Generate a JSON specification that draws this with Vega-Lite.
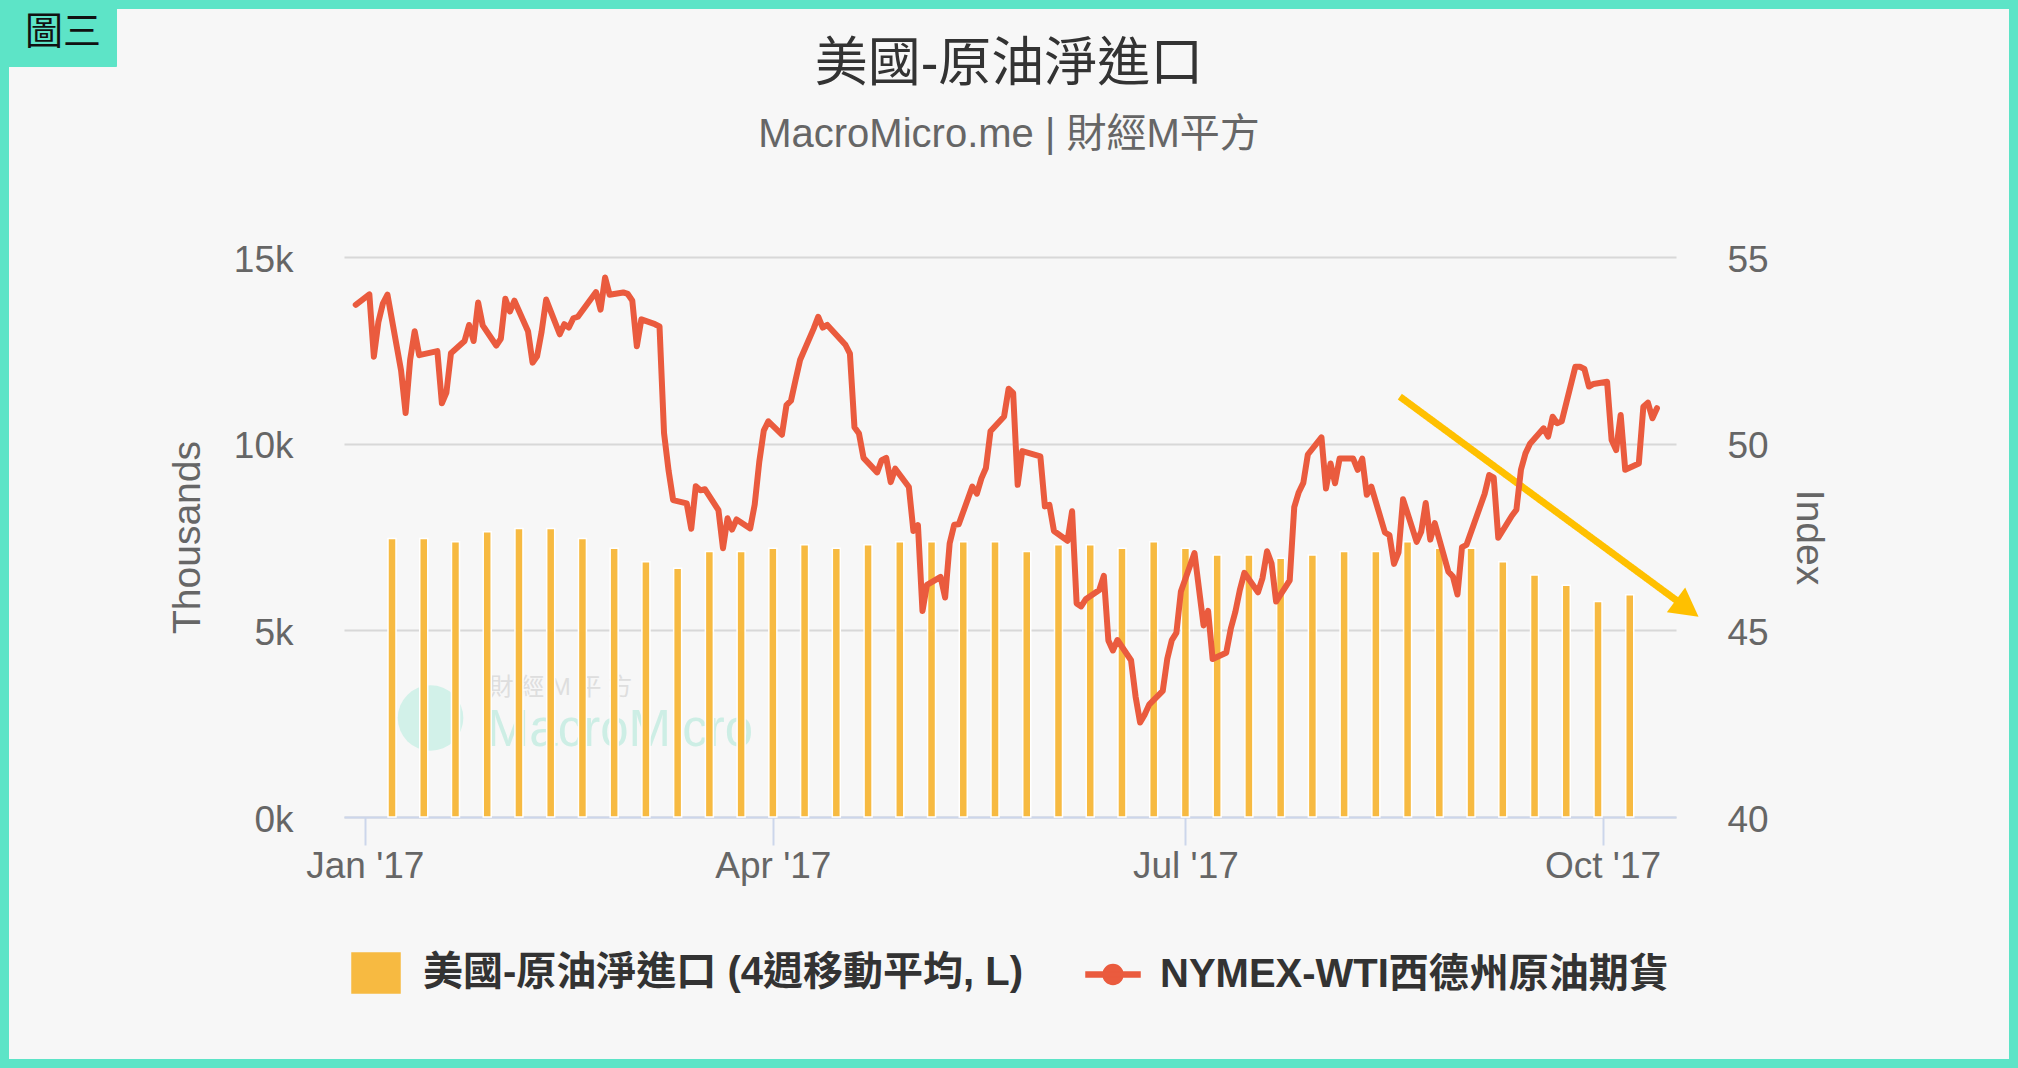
{
  "$schema": "https://vega.github.io/schema/vega-lite/v6.json",
  "width": 2018,
  "height": 1068,
  "autosize": "none",
  "padding": 0,
  "background": "#5DE4C7",
  "config": {
    "font": "'Liberation Sans', 'Noto Sans CJK TC', sans-serif",
    "view": {"fill": "#F7F7F7", "stroke": "#5DE4C7", "strokeWidth": 18}
  },
  "title": {
    "text": "美國-原油淨進口",
    "subtitle": "MacroMicro.me | 財經M平方",
    "anchor": "middle",
    "frame": "group",
    "offset": -155,
    "fontSize": 53,
    "fontWeight": "normal",
    "color": "#333333",
    "subtitleFontSize": 40,
    "subtitleColor": "#666666",
    "subtitlePadding": 23
  },
  "datasets": {
    "imports": [
      {"date": "2017-01-07", "value": 7460},
      {"date": "2017-01-14", "value": 7460},
      {"date": "2017-01-21", "value": 7375},
      {"date": "2017-01-28", "value": 7640},
      {"date": "2017-02-04", "value": 7730},
      {"date": "2017-02-11", "value": 7730},
      {"date": "2017-02-18", "value": 7460},
      {"date": "2017-02-25", "value": 7200},
      {"date": "2017-03-04", "value": 6840},
      {"date": "2017-03-11", "value": 6660},
      {"date": "2017-03-18", "value": 7110},
      {"date": "2017-03-25", "value": 7110},
      {"date": "2017-04-01", "value": 7200},
      {"date": "2017-04-08", "value": 7290},
      {"date": "2017-04-15", "value": 7200},
      {"date": "2017-04-22", "value": 7290},
      {"date": "2017-04-29", "value": 7375},
      {"date": "2017-05-06", "value": 7375},
      {"date": "2017-05-13", "value": 7375},
      {"date": "2017-05-20", "value": 7375},
      {"date": "2017-05-27", "value": 7110},
      {"date": "2017-06-03", "value": 7290},
      {"date": "2017-06-10", "value": 7290},
      {"date": "2017-06-17", "value": 7200},
      {"date": "2017-06-24", "value": 7375},
      {"date": "2017-07-01", "value": 7200},
      {"date": "2017-07-08", "value": 7020},
      {"date": "2017-07-15", "value": 7020},
      {"date": "2017-07-22", "value": 6930},
      {"date": "2017-07-29", "value": 7020},
      {"date": "2017-08-05", "value": 7110},
      {"date": "2017-08-12", "value": 7110},
      {"date": "2017-08-19", "value": 7375},
      {"date": "2017-08-26", "value": 7200},
      {"date": "2017-09-02", "value": 7200},
      {"date": "2017-09-09", "value": 6840},
      {"date": "2017-09-16", "value": 6480},
      {"date": "2017-09-23", "value": 6210},
      {"date": "2017-09-30", "value": 5770},
      {"date": "2017-10-07", "value": 5950}
    ],
    "wti": [
      {"date": "2016-12-30", "price": 53.72},
      {"date": "2017-01-02", "price": 54.0},
      {"date": "2017-01-03", "price": 52.33},
      {"date": "2017-01-04", "price": 53.26},
      {"date": "2017-01-05", "price": 53.76},
      {"date": "2017-01-06", "price": 53.99},
      {"date": "2017-01-09", "price": 51.96},
      {"date": "2017-01-10", "price": 50.82},
      {"date": "2017-01-11", "price": 52.25},
      {"date": "2017-01-12", "price": 53.01},
      {"date": "2017-01-13", "price": 52.37},
      {"date": "2017-01-17", "price": 52.48},
      {"date": "2017-01-18", "price": 51.08},
      {"date": "2017-01-19", "price": 51.37},
      {"date": "2017-01-20", "price": 52.42},
      {"date": "2017-01-23", "price": 52.75},
      {"date": "2017-01-24", "price": 53.18},
      {"date": "2017-01-25", "price": 52.75},
      {"date": "2017-01-26", "price": 53.78},
      {"date": "2017-01-27", "price": 53.17},
      {"date": "2017-01-30", "price": 52.63},
      {"date": "2017-01-31", "price": 52.81},
      {"date": "2017-02-01", "price": 53.88},
      {"date": "2017-02-02", "price": 53.54},
      {"date": "2017-02-03", "price": 53.83},
      {"date": "2017-02-06", "price": 53.01},
      {"date": "2017-02-07", "price": 52.17},
      {"date": "2017-02-08", "price": 52.34},
      {"date": "2017-02-09", "price": 53.0},
      {"date": "2017-02-10", "price": 53.86},
      {"date": "2017-02-13", "price": 52.93},
      {"date": "2017-02-14", "price": 53.2},
      {"date": "2017-02-15", "price": 53.11},
      {"date": "2017-02-16", "price": 53.36},
      {"date": "2017-02-17", "price": 53.4},
      {"date": "2017-02-21", "price": 54.06},
      {"date": "2017-02-22", "price": 53.59},
      {"date": "2017-02-23", "price": 54.45},
      {"date": "2017-02-24", "price": 53.99},
      {"date": "2017-02-27", "price": 54.05},
      {"date": "2017-02-28", "price": 54.01},
      {"date": "2017-03-01", "price": 53.83},
      {"date": "2017-03-02", "price": 52.61},
      {"date": "2017-03-03", "price": 53.33},
      {"date": "2017-03-06", "price": 53.2},
      {"date": "2017-03-07", "price": 53.14},
      {"date": "2017-03-08", "price": 50.28},
      {"date": "2017-03-09", "price": 49.28},
      {"date": "2017-03-10", "price": 48.49},
      {"date": "2017-03-13", "price": 48.4},
      {"date": "2017-03-14", "price": 47.72},
      {"date": "2017-03-15", "price": 48.86},
      {"date": "2017-03-16", "price": 48.75},
      {"date": "2017-03-17", "price": 48.78},
      {"date": "2017-03-20", "price": 48.22},
      {"date": "2017-03-21", "price": 47.2},
      {"date": "2017-03-22", "price": 48.0},
      {"date": "2017-03-23", "price": 47.7},
      {"date": "2017-03-24", "price": 47.97},
      {"date": "2017-03-27", "price": 47.73},
      {"date": "2017-03-28", "price": 48.37},
      {"date": "2017-03-29", "price": 49.51},
      {"date": "2017-03-30", "price": 50.35},
      {"date": "2017-03-31", "price": 50.6},
      {"date": "2017-04-03", "price": 50.24},
      {"date": "2017-04-04", "price": 51.03},
      {"date": "2017-04-05", "price": 51.15},
      {"date": "2017-04-06", "price": 51.7},
      {"date": "2017-04-07", "price": 52.24},
      {"date": "2017-04-10", "price": 53.08},
      {"date": "2017-04-11", "price": 53.4},
      {"date": "2017-04-12", "price": 53.11},
      {"date": "2017-04-13", "price": 53.18},
      {"date": "2017-04-17", "price": 52.65},
      {"date": "2017-04-18", "price": 52.41},
      {"date": "2017-04-19", "price": 50.44},
      {"date": "2017-04-20", "price": 50.27},
      {"date": "2017-04-21", "price": 49.62},
      {"date": "2017-04-24", "price": 49.23},
      {"date": "2017-04-25", "price": 49.56},
      {"date": "2017-04-26", "price": 49.62},
      {"date": "2017-04-27", "price": 48.97},
      {"date": "2017-04-28", "price": 49.33},
      {"date": "2017-05-01", "price": 48.84},
      {"date": "2017-05-02", "price": 47.66},
      {"date": "2017-05-03", "price": 47.82},
      {"date": "2017-05-04", "price": 45.52},
      {"date": "2017-05-05", "price": 46.22},
      {"date": "2017-05-08", "price": 46.43},
      {"date": "2017-05-09", "price": 45.88},
      {"date": "2017-05-10", "price": 47.33},
      {"date": "2017-05-11", "price": 47.83},
      {"date": "2017-05-12", "price": 47.84},
      {"date": "2017-05-15", "price": 48.85},
      {"date": "2017-05-16", "price": 48.66},
      {"date": "2017-05-17", "price": 49.07},
      {"date": "2017-05-18", "price": 49.35},
      {"date": "2017-05-19", "price": 50.33},
      {"date": "2017-05-22", "price": 50.73},
      {"date": "2017-05-23", "price": 51.47},
      {"date": "2017-05-24", "price": 51.36},
      {"date": "2017-05-25", "price": 48.9},
      {"date": "2017-05-26", "price": 49.8},
      {"date": "2017-05-30", "price": 49.66},
      {"date": "2017-05-31", "price": 48.32},
      {"date": "2017-06-01", "price": 48.36},
      {"date": "2017-06-02", "price": 47.66},
      {"date": "2017-06-05", "price": 47.4},
      {"date": "2017-06-06", "price": 48.19},
      {"date": "2017-06-07", "price": 45.72},
      {"date": "2017-06-08", "price": 45.64},
      {"date": "2017-06-09", "price": 45.83},
      {"date": "2017-06-12", "price": 46.08},
      {"date": "2017-06-13", "price": 46.46},
      {"date": "2017-06-14", "price": 44.73},
      {"date": "2017-06-15", "price": 44.46},
      {"date": "2017-06-16", "price": 44.74},
      {"date": "2017-06-19", "price": 44.2},
      {"date": "2017-06-20", "price": 43.23},
      {"date": "2017-06-21", "price": 42.53},
      {"date": "2017-06-22", "price": 42.74},
      {"date": "2017-06-23", "price": 43.01},
      {"date": "2017-06-26", "price": 43.38},
      {"date": "2017-06-27", "price": 44.24},
      {"date": "2017-06-28", "price": 44.74},
      {"date": "2017-06-29", "price": 44.93},
      {"date": "2017-06-30", "price": 46.04},
      {"date": "2017-07-03", "price": 47.07},
      {"date": "2017-07-05", "price": 45.13},
      {"date": "2017-07-06", "price": 45.52},
      {"date": "2017-07-07", "price": 44.23},
      {"date": "2017-07-10", "price": 44.4},
      {"date": "2017-07-11", "price": 45.04},
      {"date": "2017-07-12", "price": 45.49},
      {"date": "2017-07-13", "price": 46.08},
      {"date": "2017-07-14", "price": 46.54},
      {"date": "2017-07-17", "price": 46.02},
      {"date": "2017-07-18", "price": 46.4},
      {"date": "2017-07-19", "price": 47.12},
      {"date": "2017-07-20", "price": 46.79},
      {"date": "2017-07-21", "price": 45.77},
      {"date": "2017-07-24", "price": 46.34},
      {"date": "2017-07-25", "price": 48.3},
      {"date": "2017-07-26", "price": 48.7},
      {"date": "2017-07-27", "price": 48.95},
      {"date": "2017-07-28", "price": 49.71},
      {"date": "2017-07-31", "price": 50.17},
      {"date": "2017-08-01", "price": 48.8},
      {"date": "2017-08-02", "price": 49.47},
      {"date": "2017-08-03", "price": 48.94},
      {"date": "2017-08-04", "price": 49.6},
      {"date": "2017-08-07", "price": 49.6},
      {"date": "2017-08-08", "price": 49.3},
      {"date": "2017-08-09", "price": 49.6},
      {"date": "2017-08-10", "price": 48.63},
      {"date": "2017-08-11", "price": 48.85},
      {"date": "2017-08-14", "price": 47.62},
      {"date": "2017-08-15", "price": 47.55},
      {"date": "2017-08-16", "price": 46.78},
      {"date": "2017-08-17", "price": 47.09},
      {"date": "2017-08-18", "price": 48.51},
      {"date": "2017-08-21", "price": 47.37},
      {"date": "2017-08-22", "price": 47.64},
      {"date": "2017-08-23", "price": 48.41},
      {"date": "2017-08-24", "price": 47.43},
      {"date": "2017-08-25", "price": 47.87},
      {"date": "2017-08-28", "price": 46.57},
      {"date": "2017-08-29", "price": 46.44},
      {"date": "2017-08-30", "price": 45.96},
      {"date": "2017-08-31", "price": 47.23},
      {"date": "2017-09-01", "price": 47.29},
      {"date": "2017-09-05", "price": 48.66},
      {"date": "2017-09-06", "price": 49.16},
      {"date": "2017-09-07", "price": 49.09},
      {"date": "2017-09-08", "price": 47.48},
      {"date": "2017-09-11", "price": 48.07},
      {"date": "2017-09-12", "price": 48.23},
      {"date": "2017-09-13", "price": 49.3},
      {"date": "2017-09-14", "price": 49.74},
      {"date": "2017-09-15", "price": 50.0},
      {"date": "2017-09-18", "price": 50.41},
      {"date": "2017-09-19", "price": 50.19},
      {"date": "2017-09-20", "price": 50.72},
      {"date": "2017-09-21", "price": 50.55},
      {"date": "2017-09-22", "price": 50.6},
      {"date": "2017-09-25", "price": 52.06},
      {"date": "2017-09-26", "price": 52.06},
      {"date": "2017-09-27", "price": 52.0},
      {"date": "2017-09-28", "price": 51.53},
      {"date": "2017-09-29", "price": 51.6},
      {"date": "2017-10-02", "price": 51.66},
      {"date": "2017-10-03", "price": 50.1},
      {"date": "2017-10-04", "price": 49.83},
      {"date": "2017-10-05", "price": 50.77},
      {"date": "2017-10-06", "price": 49.3},
      {"date": "2017-10-09", "price": 49.47},
      {"date": "2017-10-10", "price": 50.99},
      {"date": "2017-10-11", "price": 51.1},
      {"date": "2017-10-12", "price": 50.68},
      {"date": "2017-10-13", "price": 50.95}
    ],
    "arrow": [
      {"start_date": "2017-08-17T07:00:00Z", "start_value": 11260, "end_date": "2017-10-19T16:30:00Z", "end_value": 5590}
    ]
  },
  "layer": [
    {
      "layer": [
        {
          "data": {"values": [{"date": "2017-01-15T12:00:00Z", "value": 2650}]},
          "mark": {"type": "point", "shape": "circle", "filled": true, "size": 4300, "color": "#d2f1e9", "opacity": 1},
          "encoding": {
            "x": {"field": "date", "type": "temporal"},
            "y": {"field": "value", "type": "quantitative"}
          }
        },
        {
          "data": {"values": [{"date": "2017-01-28T12:00:00Z", "value": 3450, "label": "財  經  M  平  方"}]},
          "mark": {"type": "text", "align": "left", "baseline": "middle", "fontSize": 24, "color": "#dedede"},
          "encoding": {
            "x": {"field": "date", "type": "temporal"},
            "y": {"field": "value", "type": "quantitative"},
            "text": {"field": "label"}
          }
        },
        {
          "data": {"values": [{"date": "2017-01-27T22:00:00Z", "value": 2300, "label": "MacroMicro"}]},
          "mark": {"type": "text", "align": "left", "baseline": "middle", "fontSize": 51, "color": "#cdeee5"},
          "encoding": {
            "x": {"field": "date", "type": "temporal"},
            "y": {"field": "value", "type": "quantitative"},
            "text": {"field": "label"}
          }
        },
        {
          "data": {"name": "imports"},
          "mark": {"type": "bar", "width": 8, "stroke": "#FFFFFF", "strokeWidth": 1.5},
          "encoding": {
            "x": {
              "field": "date", "type": "temporal",
              "scale": {"type": "utc", "domain": [1482927632000, 1508120426000], "range": [344, 1676]},
              "axis": {
                "orient": "bottom", "offset": -251, "title": null,
                "values": [1483228800000, 1491004800000, 1498867200000, 1506816000000],
                "format": "%b '%y", "labelFontSize": 37, "labelColor": "#666666", "labelPadding": 3,
                "labelFlush": false, "labelOverlap": false,
                "tickSize": 28, "tickColor": "#ccd6eb", "tickWidth": 2,
                "domainColor": "#ccd6eb", "domainWidth": 2, "grid": false
              }
            },
            "y": {
              "field": "value", "type": "quantitative",
              "scale": {"domain": [0, 15000], "range": [817, 257], "nice": false},
              "axis": {
                "orient": "left", "offset": -344, "values": [0, 5000, 10000, 15000],
                "labelExpr": "(datum.value / 1000) + 'k'", "labelFontSize": 37, "labelColor": "#666666",
                "labelPadding": 51, "labelOffset": 3, "ticks": false, "tickSize": 0, "domain": false,
                "grid": true, "gridColor": "#d8d8d8", "gridWidth": 2,
                "title": "Thousands", "titleFontSize": 39, "titleFontWeight": "normal", "titleColor": "#666666",
                "titleX": -157, "titleBaseline": "middle"
              }
            },
            "color": {
              "datum": "美國-原油淨進口 (4週移動平均, L)",
              "scale": {
                "domain": ["美國-原油淨進口 (4週移動平均, L)", "NYMEX-WTI西德州原油期貨"],
                "range": ["#F7BA41", "#EA5B3E"]
              },
              "legend": {
                "orient": "none", "legendX": 355, "legendY": 952, "direction": "horizontal", "columns": 2,
                "title": null, "padding": 0, "symbolSize": 1600,
                "labelFontSize": 40, "labelFontWeight": "bold", "labelColor": "#333333",
                "labelOffset": 26, "columnPadding": 60, "labelLimit": 2000,
                "encode": {
                  "symbols": {
                    "update": {
                      "fill": {"signal": "scale('color', datum.value)"},
                      "fillOpacity": {"value": 1},
                      "opacity": {"value": 1},
                      "strokeWidth": {"value": 0}
                    }
                  }
                }
              }
            }
          }
        },
        {
          "data": {"name": "arrow"},
          "mark": {"type": "rule", "color": "#FFC000", "strokeWidth": 7, "strokeCap": "butt"},
          "encoding": {
            "x": {"field": "start_date", "type": "temporal"},
            "y": {"field": "start_value", "type": "quantitative"},
            "x2": {"field": "end_date"},
            "y2": {"field": "end_value"},
            "strokeDash": {
              "datum": "圖三",
              "scale": {"range": [[1, 0]]},
              "legend": {
                "orient": "none", "legendX": -27, "legendY": 0, "title": null,
                "fillColor": "#5DE4C7", "strokeColor": "#5DE4C7", "padding": 14, "cornerRadius": 0,
                "symbolSize": 0, "symbolOpacity": 0, "symbolStrokeWidth": 0, "labelOffset": 0,
                "labelFontSize": 38, "labelColor": "#111111", "labelFont": "'Noto Sans CJK TC', sans-serif",
                "encode": {"symbols": {"update": {"size": {"value": 0}, "opacity": {"value": 0}}}}
              }
            }
          }
        },
        {
          "data": {"name": "arrow"},
          "mark": {"type": "point", "shape": "M1,0L-1,-1.1L-1,1.1Z", "filled": true, "color": "#FFC000", "size": 784, "angle": 36.5, "opacity": 1, "strokeWidth": 0},
          "encoding": {
            "x": {"field": "end_date", "type": "temporal"},
            "y": {"field": "end_value", "type": "quantitative"}
          }
        },
        {
          "data": {"values": []},
          "mark": {"type": "point", "filled": true, "opacity": 0},
          "encoding": {
            "x": {"field": "date", "type": "temporal"},
            "y": {"field": "value", "type": "quantitative"},
            "color": {"datum": "NYMEX-WTI西德州原油期貨"},
            "shape": {
              "datum": "NYMEX-WTI西德州原油期貨",
              "scale": {
                "domain": ["美國-原油淨進口 (4週移動平均, L)", "NYMEX-WTI西德州原油期貨"],
                "range": [
                  "M-1.2,-1L1.2,-1L1.2,1L-1.2,1Z",
                  "M-1.35,-0.125L1.35,-0.125L1.35,0.125L-1.35,0.125Z M0.5,0A0.5,0.5 0 1,1 -0.5,0A0.5,0.5 0 1,1 0.5,0Z"
                ]
              }
            }
          }
        }
      ]
    },
    {
      "data": {"name": "wti"},
      "mark": {"type": "line", "strokeWidth": 6, "strokeJoin": "round", "strokeCap": "round"},
      "encoding": {
        "x": {"field": "date", "type": "temporal"},
        "y": {
          "field": "price", "type": "quantitative",
          "scale": {"domain": [40, 55], "range": [817, 257], "nice": false, "zero": false},
          "axis": {
            "orient": "right", "offset": -342, "values": [40, 45, 50, 55],
            "labelFontSize": 37, "labelColor": "#666666", "labelPadding": 51, "labelOffset": 3,
            "ticks": false, "tickSize": 0, "domain": false, "grid": false,
            "title": "Index", "titleFontSize": 39, "titleFontWeight": "normal", "titleColor": "#666666",
            "titleX": 132, "titleBaseline": "middle"
          }
        },
        "color": {"datum": "NYMEX-WTI西德州原油期貨"}
      }
    }
  ],
  "resolve": {"scale": {"y": "independent"}}
}
